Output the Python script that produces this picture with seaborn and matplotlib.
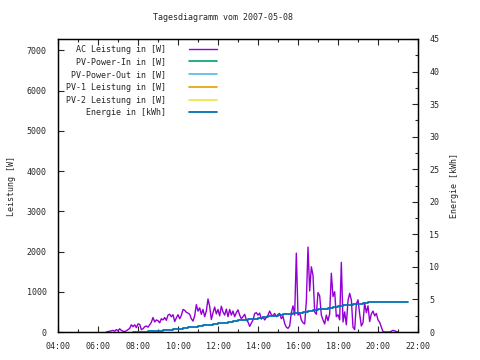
import pandas as pd
import numpy as np
import matplotlib
matplotlib.use("Agg")
import matplotlib.pyplot as plt
import matplotlib.dates as mdates
import seaborn as sns

# AC Leistung [W], 5-minute samples starting 06:25
ac_start = "2007-05-08 06:25"
ac_watt = [
    0, 10, 20, 30, 40, 20, 60, 30, 80, 40, 20, 10,          # 06:25 - 07:20
    30, 60, 90, 180, 130, 180, 110, 200, 190, 60, 80, 130,  # 07:25 - 08:20
    150, 120, 180, 240, 360, 250, 300, 280, 230, 330, 300, 360,  # 08:25 - 09:20
    290, 420, 440, 380, 430, 260, 350, 430, 330, 410, 560, 540,  # 09:25 - 10:20
    490, 470, 440, 330, 270, 400, 680, 520, 600, 440, 560, 380,  # 10:25 - 11:20
    520, 820, 640, 310, 480, 620, 450, 560, 400, 640, 500, 420,  # 11:25 - 12:20
    570, 380, 560, 420, 520, 380, 480, 550, 420, 330, 380, 440,  # 12:25 - 13:20
    300, 250, 140, 220, 300, 460, 480, 420, 470, 320, 380, 300,  # 13:25 - 14:20
    360, 420, 520, 430, 400, 460, 380, 440, 460, 330, 390, 210,  # 14:25 - 15:20
    120, 90, 150, 480, 650, 420, 1960, 420, 480, 300, 230, 200,  # 15:25 - 16:20
    760, 2110, 1020, 1620, 1410, 500, 440, 980, 900, 420, 300, 200,  # 16:25 - 17:20
    420, 280, 450, 1460, 880, 1000, 380, 430, 300, 1730, 250, 500,  # 17:25 - 18:20
    180, 780, 960, 800, 120, 60, 700, 800, 450, 150, 230, 720,  # 18:25 - 19:20
    480, 650, 260, 450, 520, 400, 460, 300, 240, 120, 10, 0,  # 19:25 - 20:20
    0, 0, 0, 20, 40, 30, 10, 0,                              # 20:25 - 21:00
]

# Energie [kWh], 15-minute samples starting 07:45
en_start = "2007-05-08 07:45"
en_kwh = [
    0.00, 0.02, 0.05, 0.08, 0.12, 0.18, 0.25, 0.32, 0.42, 0.50,
    0.60, 0.72, 0.82, 0.92, 1.02, 1.10, 1.22, 1.33, 1.45, 1.57,
    1.68, 1.80, 1.90, 1.97, 2.05, 2.18, 2.28, 2.40, 2.50, 2.60,
    2.70, 2.78, 2.85, 2.98, 3.10, 3.25, 3.40, 3.52, 3.60, 3.68,
    3.85, 3.98, 4.10, 4.22, 4.28, 4.35, 4.40, 4.55, 4.62, 4.66,
    4.68, 4.68, 4.68, 4.68, 4.68, 4.68,
]

# series without data on this day
pv_in = []
pv_out = []
pv1 = []
pv2 = []

labels = ["AC Leistung in [W]", "PV-Power-In in [W]", "PV-Power-Out in [W]",
          "PV-1 Leistung in [W]", "PV-2 Leistung in [W]", "Energie in [kWh]"]
colors = ["#9400d3", "#009e73", "#56b4e9", "#e69f00", "#f0e442", "#0072b2"]

ac = pd.DataFrame({"zeit": pd.date_range(ac_start, periods=len(ac_watt), freq="5min"),
                   "watt": ac_watt})
en = pd.DataFrame({"zeit": pd.date_range(en_start, periods=len(en_kwh), freq="15min"),
                   "kwh": en_kwh})

sns.set_style("ticks")
plt.rcParams["font.family"] = ["DejaVu Sans Mono"]
plt.rcParams["xtick.direction"] = "in"
plt.rcParams["ytick.direction"] = "in"

fig = plt.figure(figsize=(4.8, 3.6), dpi=100)
ax = fig.add_axes([58 / 480, 28 / 360, 360 / 480, 293 / 360])
ax2 = ax.twinx()

sns.lineplot(data=ac, x="zeit", y="watt", ax=ax, color=colors[0], lw=1.0, label=labels[0])
for vals, lab, col in zip([pv_in, pv_out, pv1, pv2], labels[1:5], colors[1:5]):
    ax.plot(pd.to_datetime(pd.Series(vals, dtype="float64")), vals, color=col, lw=1.2, label=lab)
sns.lineplot(data=en, x="zeit", y="kwh", ax=ax2, color=colors[5], lw=1.3,
             drawstyle="steps-post", label=labels[5])

ax.set_xlim(pd.Timestamp("2007-05-08 04:00"), pd.Timestamp("2007-05-08 22:00"))
ax.set_ylim(0, 7280)
ax2.set_ylim(0, 45)

ax.xaxis.set_major_locator(mdates.HourLocator(interval=2))
ax.xaxis.set_minor_locator(mdates.HourLocator())
ax.xaxis.set_major_formatter(mdates.DateFormatter("%H:%M"))
ax.set_yticks(range(0, 7001, 1000))
ax2.set_yticks(range(0, 46, 5))
ax2.set_yticks(np.arange(2.5, 45, 5), minor=True)

ax.tick_params(axis="y", which="major", labelsize=6, length=4, width=0.8, right=False, pad=8)
ax.tick_params(axis="x", which="major", labelsize=6, length=4, width=0.8, top=True, pad=7)
ax.tick_params(axis="x", which="minor", length=2, width=0.8, top=True)
ax2.tick_params(axis="y", which="major", labelsize=6, length=4, width=0.8, pad=8)
ax2.tick_params(axis="y", which="minor", length=2, width=0.8)

for a in (ax, ax2):
    for s in a.spines.values():
        s.set_linewidth(0.9)
        s.set_color("black")

ax.set_xlabel("")
ax.set_ylabel("Leistung [W]", fontsize=6, labelpad=8)
ax2.set_ylabel("Energie [kWh]", fontsize=6, labelpad=8)
fig.text(223 / 480, 1 - 18 / 360, "Tagesdiagramm vom 2007-05-08", fontsize=6,
         ha="center", va="center")

h1, l1 = ax.get_legend_handles_labels()
h2, l2 = ax2.get_legend_handles_labels()
if ax2.get_legend():
    ax2.get_legend().remove()
ax.legend(h1 + h2, l1 + l2, loc="upper left", bbox_to_anchor=(0.01, 0.995),
          frameon=False, markerfirst=False, fontsize=6, handlelength=3.4,
          handletextpad=2.8, labelspacing=0.45, borderpad=0)

fig.savefig("out.png", dpi=100)
